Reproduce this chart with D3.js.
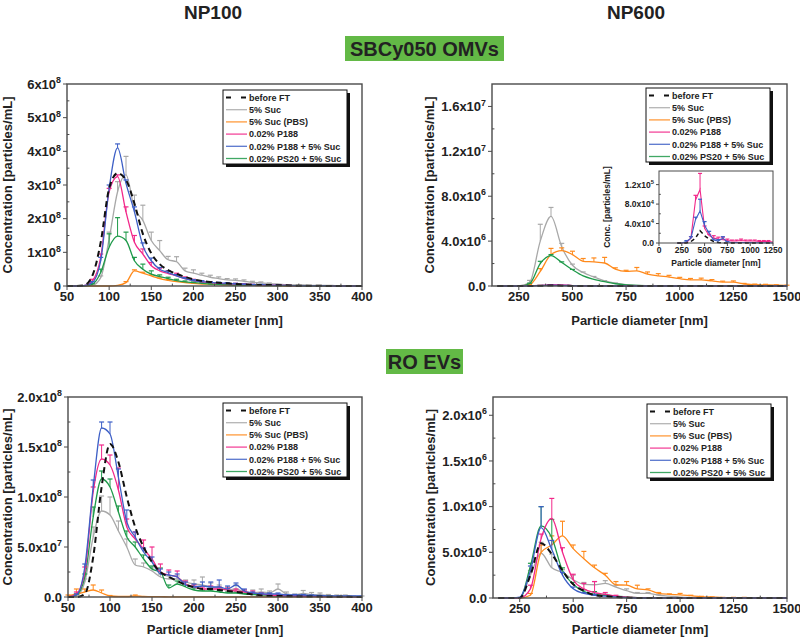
<!DOCTYPE html>
<html><head><meta charset="utf-8">
<script src="https://cdn.jsdelivr.net/npm/d3@7"></script>
<style>
body{margin:0;background:#fff}
text{font-family:"Liberation Sans",Arial,sans-serif;font-weight:bold;fill:#222}
</style></head>
<body><svg id="c" width="800" height="640"></svg>
<script>
// ---------- series ----------
const seriesNames = ["before FT","5% Suc","5% Suc (PBS)","0.02% P188","0.02% P188 + 5% Suc","0.02% PS20 + 5% Suc"];
const seriesColors = ["#111111","#a8a8a8","#ff8a1c","#f2288a","#3d5fc6","#1f9a4a"];
const drawOrder = [1,2,5,3,4,0];

// ---------- x values ----------
const xNP100 = [50,60,70,80,90,100,110,120,130,140,150,160,170,180,190,200,210,220,230,240,250,260,270,280,290,300,310,320,330,340,350,360,370,380,390,400];
const xNP600 = [150,200,250,300,350,400,450,500,550,600,650,700,750,800,850,900,950,1000,1050,1100,1150,1200,1250,1300,1350,1400,1450,1500];
const xInset = [200,250,300,350,400,450,500,550,600,650,700,750,800,850,900,950,1000,1050,1100,1150,1200,1250];

// ---------- SBCy050 OMVs, NP100 (x1e8 particles/mL) ----------
const omv100_FT    = [0,0,0.02,0.3,1.3,2.9,3.35,3.15,2.45,1.55,0.97,0.65,0.47,0.36,0.27,0.2,0.15,0.12,0.1,0.08,0.06,0.05,0.04,0.03,0.03,0.02,0.02,0.01,0.01,0.01,0.01,0,0,0,0,0];
const omv100_Suc   = [0,0,0,0.02,0.25,1.4,2.8,3.3,2.3,1.95,1.35,1.05,0.78,0.72,0.45,0.38,0.32,0.26,0.22,0.18,0.17,0.14,0.11,0.09,0.07,0.06,0.04,0.03,0.03,0.02,0.02,0.02,0.01,0.01,0.01,0.01];
const omv100_SucE  = [0,0,0,0,0.05,0.2,0.3,0.55,0.4,0.45,0.25,0.3,0.1,0.15,0.08,0.1,0.06,0.06,0.05,0.04,0.04,0.04,0.03,0.03,0.02,0,0,0,0,0,0,0,0,0,0,0];
const omv100_PBS   = [0,0,0,0,0,0,0.02,0.1,0.45,0.38,0.3,0.22,0.17,0.13,0.1,0.08,0.06,0.05,0.04,0.03,0.03,0.02,0.02,0.01,0.01,0.01,0,0,0,0,0,0,0,0,0,0];
const omv100_PBSE  = [0,0,0,0,0,0,0,0.03,0.03,0.03,0.03,0.02,0.02,0.02,0.01,0.01,0,0,0,0,0,0,0,0,0,0,0,0,0,0,0,0,0,0,0,0];
const omv100_P188  = [0,0,0.01,0.15,0.85,2.8,3.25,2.2,1.3,0.95,0.6,0.45,0.37,0.3,0.22,0.16,0.12,0.1,0.08,0.07,0.06,0.05,0.04,0.03,0.03,0.02,0.02,0.01,0.01,0.01,0.01,0.01,0,0,0,0];
const omv100_P188E = [0,0,0,0.05,0.1,0.1,0.05,0.15,0.2,0.15,0.1,0.08,0.08,0.08,0.05,0.04,0.03,0.03,0.02,0.02,0.02,0.02,0.01,0.01,0.01,0.01,0,0,0,0,0,0,0,0,0,0];
const omv100_P188S = [0,0,0.01,0.1,0.75,2.9,4.1,3.05,2.2,1.2,0.75,0.5,0.4,0.3,0.22,0.16,0.13,0.11,0.09,0.08,0.06,0.05,0.04,0.04,0.03,0.02,0.02,0.01,0.01,0.01,0.01,0.01,0,0,0,0];
const omv100_P188SE= [0,0,0,0.03,0.1,0.1,0.12,0.1,0.15,0.08,0.08,0.05,0.05,0.04,0.03,0.03,0.03,0.02,0.02,0.02,0.02,0.01,0.01,0.01,0.01,0.01,0,0,0,0,0,0,0,0,0,0];
const omv100_PS20  = [0,0,0,0.05,0.4,1.15,1.48,1.35,0.75,0.5,0.35,0.28,0.22,0.16,0.12,0.1,0.08,0.06,0.05,0.04,0.03,0.03,0.02,0.02,0.01,0.01,0.01,0.01,0,0,0,0,0,0,0,0];
const omv100_PS20E = [0,0,0,0.02,0.1,0.4,0.55,0.25,0.1,0.15,0.1,0.05,0.04,0.04,0.03,0.02,0.02,0.01,0.01,0.01,0,0,0,0,0,0,0,0,0,0,0,0,0,0,0,0];

// ---------- SBCy050 OMVs, NP600 (x1e6 particles/mL) ----------
const omv600_FT    = [0,0,0,0,0.02,0.04,0.03,0.01,0,0,0,0,0,0,0,0,0,0,0,0,0,0,0,0,0,0,0,0];
const omv600_Suc   = [0,0,0,0.3,4.0,6.2,3.5,1.85,1.2,0.8,0.45,0.25,0.12,0.06,0.03,0.02,0.01,0,0,0,0,0,0,0,0,0,0,0];
const omv600_SucE  = [0,0,0,0.2,1.5,0.8,0.3,0.1,0.05,0.05,0.03,0.02,0,0,0,0,0,0,0,0,0,0,0,0,0,0,0,0];
const omv600_PBS   = [0,0,0,0.1,1.3,2.8,3.15,2.8,2.2,2.15,2.05,1.5,1.3,1.35,1.05,0.9,0.8,0.65,0.55,0.55,0.45,0.35,0.35,0.18,0.12,0.1,0.08,0.05];
const omv600_PBSE  = [0,0,0,0.05,0.25,0.55,0.25,0.3,0.25,0.35,0.5,0.12,0.1,0.3,0.2,0.2,0.15,0.12,0.12,0.15,0.12,0.08,0.1,0.05,0.05,0.05,0.03,0.02];
const omv600_P188  = [0,0,0,0.01,0.05,0.11,0.1,0.04,0.02,0.01,0.01,0,0,0,0,0,0,0,0,0,0,0,0,0,0,0,0,0];
const omv600_P188S = [0,0,0,0.01,0.04,0.07,0.06,0.03,0.01,0,0,0,0,0,0,0,0,0,0,0,0,0,0,0,0,0,0,0];
const omv600_PS20  = [0,0,0,0.2,2.0,2.7,2.1,1.45,0.9,0.6,0.38,0.2,0.1,0.05,0.03,0.02,0.01,0,0,0,0,0,0,0,0,0,0,0];
const omv600_PS20E = [0,0,0,0.05,0.2,0.1,0.05,0.03,0,0,0,0,0,0,0,0,0,0,0,0,0,0,0,0,0,0,0,0];

// ---------- inset (x1e4 particles/mL) ----------
const inset_FT    = [0,0,0,0.3,1.0,2.5,1.5,0.8,0.3,0.1,0,0,0,0,0,0,0,0,0,0,0,0];
const inset_P188  = [0,0,0.1,1.0,8.8,11.0,3.0,1.5,1.0,0.8,0.7,0.5,0.4,0.4,0.5,0.4,0.4,0.4,0.3,0.3,0.3,0.2];
const inset_P188E = [0,0,0,0.3,1.0,3.3,0.5,0.3,0.5,0.4,0.5,0.3,0.2,0.2,0.3,0.2,0.2,0.2,0.2,0.2,0.2,0];
const inset_P188S = [0,0,0.3,1.0,4.8,6.6,3.6,2.0,0.6,0.4,1.0,0.2,0.1,0.1,0.1,0.1,0.1,0.05,0.05,0.05,0.05,0];
const inset_P188SE= [0,0,0.2,0.3,0.5,2.4,0.8,0.4,0.2,0.3,0.3,0.1,0,0,0,0,0,0,0,0,0,0];

// ---------- RO EVs, NP100 (x1e7 particles/mL) ----------
const ro100_FT    = [0,0,0.3,4.0,11.0,15.3,13.5,10.0,7.0,5.0,3.5,2.5,2.0,1.6,1.2,1.0,0.8,0.8,0.7,0.6,0.5,0.4,0.25,0.15,0.1,0.1,0.08,0.06,0.05,0.05,0.04,0.03,0.02,0.02,0.01,0.01];
const ro100_Suc   = [0,0.1,1.5,6.0,8.6,8.2,6.6,5.0,3.2,3.0,2.6,2.0,1.8,1.8,1.5,1.3,1.2,1.0,0.9,0.7,0.8,0.5,0.4,0.5,0.4,0.8,0.3,0.2,0.35,0.25,0.2,0.15,0.1,0.1,0.05,0.05];
const ro100_SucE  = [0,0.1,0.3,1.0,1.5,1.8,1.0,0.8,0.6,0.4,0.3,0.3,0.3,0.3,0.2,0.4,0.8,0.4,0.3,0.3,0.4,0.2,0.3,0.3,0.2,0.5,0.2,0.1,0.3,0.2,0.2,0.1,0.1,0.1,0.05,0.05];
const ro100_PBS   = [0.1,0.3,0.5,0.7,0.4,0.1,0.05,0.05,0.1,0.05,0.03,0.03,0.02,0.02,0.02,0.02,0.02,0.02,0.02,0.02,0.02,0.01,0.01,0.01,0.01,0.01,0.01,0.01,0.01,0.01,0.01,0.01,0.01,0.01,0.01,0.01];
const ro100_PBSE  = [0.1,0.5,0.3,0.5,0.3,0.05,0,0,0.1,0,0,0,0,0,0,0,0,0,0,0,0,0,0,0,0,0,0,0,0,0,0,0,0,0,0,0];
const ro100_P188  = [0,0.3,2.5,10.5,13.8,13.2,10.7,7.0,5.8,4.8,3.8,2.5,2.2,2.0,1.3,1.0,0.8,0.8,0.8,0.7,0.6,0.5,0.4,0.3,0.2,0.15,0.12,0.1,0.08,0.06,0.05,0.04,0.03,0.03,0.02,0.02];
const ro100_P188E = [0,0.2,0.5,0.5,1.4,1.0,2.2,0.8,0.7,0.9,1.2,0.8,0.5,0.6,0.3,0.2,0.2,0.3,0.2,0.2,0.2,0.2,0.2,0.1,0.1,0.1,0.05,0.05,0.05,0,0,0,0,0,0,0];
const ro100_P188S = [0,0.2,3.0,11.0,16.9,16.3,12.0,7.5,6.0,4.5,3.5,2.3,2.2,2.0,1.2,1.0,1.1,1.0,1.0,0.8,1.2,0.6,0.4,0.3,0.3,0.3,0.2,0.2,0.2,0.15,0.15,0.1,0.1,0.1,0.1,0.1];
const ro100_P188SE= [0,0.1,0.3,0.7,0.6,1.2,0.8,1.2,0.5,0.4,0.5,0.5,0.3,0.3,0.3,0.3,0.4,0.5,0.7,0.3,0.2,0.2,0.1,0.1,0.1,0.1,0.05,0.05,0.05,0.05,0,0,0,0,0,0];
const ro100_PS20  = [0,0.2,2.0,8.0,11.8,11.0,8.5,6.0,5.0,3.8,2.8,2.5,0.9,1.3,1.0,0.7,0.6,0.6,0.5,0.4,0.4,0.3,0.25,0.2,0.15,0.12,0.1,0.1,0.1,0.08,0.06,0.05,0.04,0.03,0.02,0.02];
const ro100_PS20E = [0,0.1,0.3,1.0,0.8,0.8,0.6,0.6,0.5,0.4,0.3,0.4,0.3,0.3,0.2,0.2,0.1,0.1,0.1,0.1,0.1,0.05,0.05,0.05,0,0,0,0,0,0,0,0,0,0,0,0];

// ---------- RO EVs, NP600 (x1e5 particles/mL) ----------
const ro600_FT    = [0,0,0,2.5,6.0,4.8,3.0,1.5,0.8,0.3,0.2,0.1,0.05,0,0,0,0,0,0,0,0,0,0,0,0,0,0,0];
const ro600_Suc   = [0,0,0,2.5,4.9,3.3,2.8,2.0,1.5,1.45,1.6,1.2,0.8,0.5,0.5,0.3,0.2,0.1,0.05,0.02,0,0,0,0,0,0,0,0];
const ro600_SucE  = [0,0,0,0.5,1.2,1.5,0.3,0.5,0.2,0.35,0.3,0.2,0.2,0.1,0.1,0.05,0,0,0,0,0,0,0,0,0,0,0,0];
const ro600_PBS   = [0,0,0,0.3,5.0,5.8,6.8,5.4,4.3,3.3,2.5,1.45,1.4,1.0,0.9,0.5,0.4,0.35,0.25,0.15,0.1,0.05,0.05,0.05,0.03,0.02,0.02,0.02];
const ro600_PBSE  = [0,0,0,0.2,0.8,1.0,1.6,0.4,0.8,0.3,0.2,0.35,0.4,0.4,0.1,0.1,0.05,0.15,0.05,0.03,0.02,0.02,0.02,0.02,0,0,0,0];
const ro600_P188  = [0,0,0,1.0,6.5,8.7,5.0,2.0,1.0,0.6,0.4,0.2,0.1,0.05,0.03,0.02,0.01,0,0,0,0,0,0,0,0,0,0,0];
const ro600_P188E = [0,0,0,0.4,0.5,2.2,0.5,0.6,0.6,1.2,0.2,0.1,0,0,0,0,0,0,0,0,0,0,0,0,0,0,0,0];
const ro600_P188S = [0,0,0.1,3.0,7.7,5.3,2.5,1.0,0.5,0.3,0.2,0.1,0.05,0,0,0,0,0,0,0,0,0,0,0,0,0,0,0];
const ro600_P188SE= [0,0,0,0.5,2.3,1.0,0.3,0.2,0.1,0.1,0,0,0,0,0,0,0,0,0,0,0,0,0,0,0,0,0,0];
const ro600_PS20  = [0,0,0,3.5,7.9,6.6,3.0,1.5,0.7,0.4,0.3,0.2,0.1,0.05,0,0,0,0,0,0,0,0,0,0,0,0,0,0];
const ro600_PS20E = [0,0,0,0.3,2.1,2.0,0.3,0.2,0.2,0.3,0.1,0,0,0,0,0,0,0,0,0,0,0,0,0,0,0,0,0];

// ---------- ticks ----------
const xTicksNP100 = [50,100,150,200,250,300,350,400];
const xMinorNP100 = [75,125,175,225,275,325,375];
const xTicksNP600 = [250,500,750,1000,1250,1500];
const xMinorNP600 = [375,625,875,1125,1375];
const xTicksInset = [0,250,500,750,1000,1250];
const yTicksOmv100 = [0,1e8,2e8,3e8,4e8,5e8,6e8];
const yTicksOmv600 = [0,4e6,8e6,1.2e7,1.6e7];
const yTicksRo100 = [0,5e7,1e8,1.5e8,2e8];
const yTicksRo600 = [0,5e5,1e6,1.5e6,2e6];
const yTicksInset = [0,4e4,8e4,1.2e5];

// ---------- drawing ----------
const svg = d3.select("#c");
const axisColor = "#4a4a4a";

function sciText(sel, v, dec, fs) {
  if (v === 0) { sel.text(dec ? (0).toFixed(dec) : "0"); return; }
  const e = Math.floor(Math.log10(v) + 1e-9);
  const m = v / Math.pow(10, e);
  sel.append("tspan").text((dec ? m.toFixed(dec) : Math.round(m)) + "x10");
  sel.append("tspan").attr("dy", -fs * 0.42).attr("font-size", fs * 0.68).text(e);
}

function drawPanel(p) {
  const x = d3.scaleLinear().domain(p.xDomain).range([p.x0, p.x1]);
  const y = d3.scaleLinear().domain(p.yDomain).range([p.y1, p.y0]);
  const g = svg.append("g");
  const fs = p.fs;

  drawOrder.forEach(i => {
    const vals = p.vals[i];
    if (!vals) return;
    const pts = p.xs.map((d, j) => [d, vals[j] * p.unit]);
    const line = d3.line().x(d => x(d[0])).y(d => y(d[1])).curve(p.curve || d3.curveMonotoneX);
    g.append("path").attr("d", line(pts)).attr("fill", "none")
      .attr("stroke", seriesColors[i])
      .attr("stroke-width", i === 0 ? p.dashW : p.lw)
      .attr("stroke-dasharray", i === 0 ? p.dash : null);
    const errs = p.errs[i];
    if (errs) {
      p.xs.forEach((d, j) => {
        if (!errs[j]) return;
        const v = vals[j] * p.unit, e = errs[j] * p.unit;
        const xx = x(d), y1 = y(v), y2 = y(v + e);
        g.append("line").attr("x1", xx).attr("x2", xx).attr("y1", y1).attr("y2", y2)
          .attr("stroke", seriesColors[i]).attr("stroke-width", 1);
        g.append("line").attr("x1", xx - p.cap).attr("x2", xx + p.cap).attr("y1", y2).attr("y2", y2)
          .attr("stroke", seriesColors[i]).attr("stroke-width", 1.2);
      });
    }
  });

  g.append("rect").attr("x", p.x0).attr("y", p.y0).attr("width", p.x1 - p.x0).attr("height", p.y1 - p.y0)
    .attr("fill", "none").attr("stroke", axisColor).attr("stroke-width", p.frameW);

  p.xTicks.forEach(t => {
    g.append("line").attr("x1", x(t)).attr("x2", x(t)).attr("y1", p.y1).attr("y2", p.y1 + p.tick)
      .attr("stroke", axisColor).attr("stroke-width", 1);
    g.append("text").attr("x", x(t)).attr("y", p.y1 + p.tick + fs * 0.85).attr("text-anchor", "middle")
      .attr("font-size", fs).text(t);
  });
  (p.xMinor || []).forEach(t => {
    g.append("line").attr("x1", x(t)).attr("x2", x(t)).attr("y1", p.y1).attr("y2", p.y1 - p.tick * 0.6)
      .attr("stroke", axisColor).attr("stroke-width", 1);
  });
  p.yTicks.forEach((t, k) => {
    g.append("line").attr("x1", p.x0 - p.tick).attr("x2", p.x0).attr("y1", y(t)).attr("y2", y(t))
      .attr("stroke", axisColor).attr("stroke-width", 1);
    if (k < p.yTicks.length - 1) {
      const mid = (t + p.yTicks[k + 1]) / 2;
      g.append("line").attr("x1", p.x0).attr("x2", p.x0 + p.tick * 0.6).attr("y1", y(mid)).attr("y2", y(mid))
        .attr("stroke", axisColor).attr("stroke-width", 1);
    }
    const tx = g.append("text").attr("x", p.x0 - p.tick - 2).attr("y", y(t) + fs * 0.36)
      .attr("text-anchor", "end").attr("font-size", fs);
    sciText(tx, t, p.dec, fs);
  });
  g.append("text").attr("transform", `translate(${p.yTitleX},${(p.y0 + p.y1) / 2}) rotate(-90)`)
    .attr("text-anchor", "middle").attr("font-size", p.titleFs).text(p.yTitle);
  g.append("text").attr("x", (p.x0 + p.x1) / 2).attr("y", p.xTitleY)
    .attr("text-anchor", "middle").attr("font-size", p.titleFs).text("Particle diameter [nm]");
}

function drawLegend(bx, by, bw, bh) {
  const g = svg.append("g");
  g.append("rect").attr("x", bx + 3).attr("y", by + 3).attr("width", bw).attr("height", bh).attr("fill", "#111");
  g.append("rect").attr("x", bx).attr("y", by).attr("width", bw).attr("height", bh)
    .attr("fill", "#fff").attr("stroke", "#111").attr("stroke-width", 1);
  seriesNames.forEach((n, i) => {
    const ry = by + 7.5 + i * 12.2;
    g.append("line").attr("x1", bx + 3).attr("x2", bx + 24).attr("y1", ry).attr("y2", ry)
      .attr("stroke", seriesColors[i]).attr("stroke-width", i === 0 ? 2 : 1.3)
      .attr("stroke-dasharray", i === 0 ? "5,10" : null).attr("opacity", i === 0 ? 1 : 0.85);
    g.append("text").attr("x", bx + 26).attr("y", ry + 3.3).attr("font-size", 9).text(n);
  });
}

const common = {fs: 13, titleFs: 13, tick: 4, lw: 1.3, dashW: 2, dash: "6,4", cap: 2.5, frameW: 1.4};

drawPanel(Object.assign({}, common, {
  x0: 67, x1: 362, y0: 84, y1: 286, xDomain: [50, 400], yDomain: [0, 6e8], unit: 1e8, dec: 0,
  xs: xNP100, xTicks: xTicksNP100, xMinor: xMinorNP100, yTicks: yTicksOmv100,
  vals: [omv100_FT, omv100_Suc, omv100_PBS, omv100_P188, omv100_P188S, omv100_PS20],
  errs: [null, omv100_SucE, omv100_PBSE, omv100_P188E, omv100_P188SE, omv100_PS20E],
  yTitle: "Concentration [particles/mL]", yTitleX: 12, xTitleY: 325
}));
drawPanel(Object.assign({}, common, {
  x0: 492, x1: 787, y0: 84, y1: 286, xDomain: [125, 1500], yDomain: [0, 1.8e7], unit: 1e6, dec: 1,
  xs: xNP600, xTicks: xTicksNP600, xMinor: xMinorNP600, yTicks: yTicksOmv600,
  vals: [omv600_FT, omv600_Suc, omv600_PBS, omv600_P188, omv600_P188S, omv600_PS20],
  errs: [null, omv600_SucE, omv600_PBSE, null, null, omv600_PS20E],
  yTitle: "Concentration [particles/mL]", yTitleX: 434, xTitleY: 325
}));
drawPanel(Object.assign({}, common, {
  x0: 68, x1: 362, y0: 397, y1: 597, xDomain: [50, 400], yDomain: [0, 2e8], unit: 1e7, dec: 1,
  xs: xNP100, xTicks: xTicksNP100, xMinor: xMinorNP100, yTicks: yTicksRo100,
  vals: [ro100_FT, ro100_Suc, ro100_PBS, ro100_P188, ro100_P188S, ro100_PS20],
  errs: [null, ro100_SucE, ro100_PBSE, ro100_P188E, ro100_P188SE, ro100_PS20E],
  yTitle: "Concentration [particles/mL]", yTitleX: 12, xTitleY: 634
}));
drawPanel(Object.assign({}, common, {
  x0: 493, x1: 787, y0: 397, y1: 598, xDomain: [125, 1500], yDomain: [0, 2.2e6], unit: 1e5, dec: 1,
  xs: xNP600, xTicks: xTicksNP600, xMinor: xMinorNP600, yTicks: yTicksRo600,
  vals: [ro600_FT, ro600_Suc, ro600_PBS, ro600_P188, ro600_P188S, ro600_PS20],
  errs: [null, ro600_SucE, ro600_PBSE, ro600_P188E, ro600_P188SE, ro600_PS20E],
  yTitle: "Concentration [particles/mL]", yTitleX: 435, xTitleY: 634
}));
drawPanel({
  fs: 8.5, titleFs: 8.5, tick: 3, lw: 1.1, dashW: 1.5, dash: "4,3", cap: 2, frameW: 1,
  curve: d3.curveLinear,
  x0: 659, x1: 773, y0: 171, y1: 243, xDomain: [0, 1250], yDomain: [0, 1.48e5], unit: 1e4, dec: 1,
  xs: xInset, xTicks: xTicksInset, xMinor: [], yTicks: yTicksInset,
  vals: [inset_FT, null, null, inset_P188, inset_P188S, null],
  errs: [null, null, null, inset_P188E, inset_P188SE, null],
  yTitle: "Conc. [particles/mL]", yTitleX: 610, xTitleY: 266
});

drawLegend(223, 90, 124, 74);
drawLegend(646, 88, 124, 74);
drawLegend(223, 403, 124, 74);
drawLegend(647, 404, 124, 74);

svg.append("text").attr("x", 213).attr("y", 19).attr("text-anchor", "middle").attr("font-size", 19).text("NP100");
svg.append("text").attr("x", 636).attr("y", 19).attr("text-anchor", "middle").attr("font-size", 19).text("NP600");
svg.append("rect").attr("x", 345).attr("y", 36).attr("width", 159).attr("height", 25).attr("fill", "#63b946");
svg.append("text").attr("x", 424.5).attr("y", 56).attr("text-anchor", "middle").attr("font-size", 20).text("SBCy050 OMVs");
svg.append("rect").attr("x", 386).attr("y", 349).attr("width", 77).attr("height", 25).attr("fill", "#63b946");
svg.append("text").attr("x", 424.5).attr("y", 369).attr("text-anchor", "middle").attr("font-size", 20).text("RO EVs");
</script></body></html>
